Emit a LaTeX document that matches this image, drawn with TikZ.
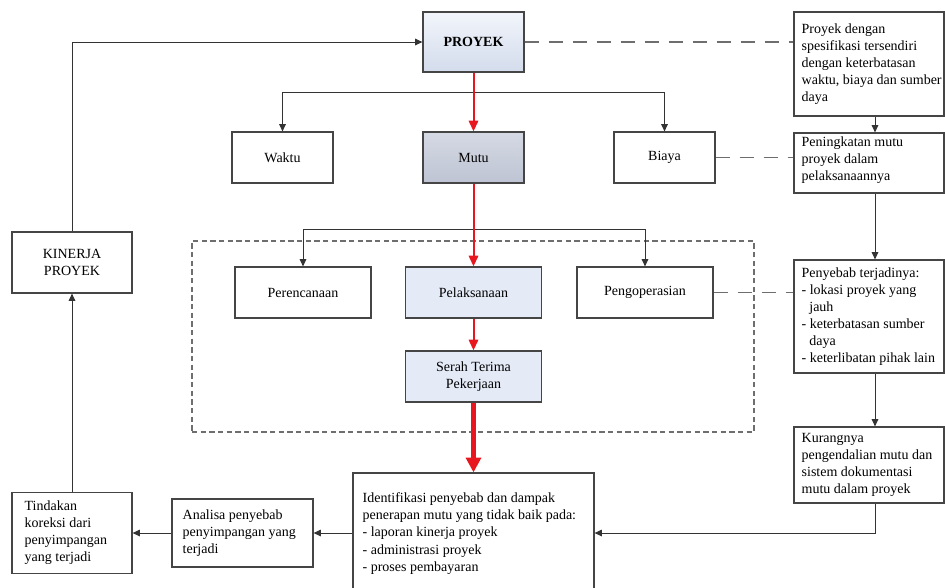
\documentclass[tikz,border=0pt]{standalone}
\usepackage{fontspec}
\setmainfont{Liberation Serif}
\usetikzlibrary{arrows.meta,calc}
\definecolor{lineC}{HTML}{333333}
\definecolor{boxC}{HTML}{454545}
\definecolor{dashC}{HTML}{6E6E6E}
\definecolor{redC}{HTML}{E8161F}
\definecolor{mutuTop}{HTML}{D5D9E4}
\definecolor{mutuBot}{HTML}{BEC4D3}
\definecolor{blueC}{HTML}{E4EAF6}
\definecolor{proyTop}{HTML}{F2F5FB}
\definecolor{proyBot}{HTML}{D3DCEC}
\tikzset{
  every node/.style={font=\fontsize{10.5}{12.8}\selectfont},
  box/.style={draw=boxC, line width=0.9pt, inner sep=0pt},
  sz/.style 2 args={minimum width=#1*0.75pt, minimum height=#2*0.75pt},
  txt/.style={align=left, inner sep=0pt, anchor=west},
  arr/.style={draw=lineC, line width=0.75pt, -{Triangle[length=5.5pt,width=5pt]}},
  redarr/.style={draw=redC, line width=1.5pt, -{Triangle[length=8pt,width=7pt]}},
  bigred/.style={draw=redC, line width=3.2pt, -{Triangle[length=11pt,width=11pt]}},
  dashlink/.style={draw=dashC, line width=0.9pt, dash pattern=on 11pt off 7pt},
  dashframe/.style={draw=dashC, line width=0.8pt, dash pattern=on 4pt off 2.5pt},
}
\begin{document}
\begin{tikzpicture}[x=0.75pt,y=-0.75pt]
\useasboundingbox (0,0) rectangle (945,587);
\clip (0,0) rectangle (945,587);

% main column
\node[box, top color=proyTop, bottom color=proyBot, sz={101}{60}] (proyek) at (473.5,42) {\textbf{PROYEK}};
\node[box, sz={101}{51}] (waktu) at (282.5,157.5) {Waktu};
\node[box, top color=mutuTop, bottom color=mutuBot, sz={101}{51}] (mutu) at (473.5,157.5) {Mutu};
\node[box, sz={101}{51}] (biaya) at (664.5,157.5) {Biaya};
\coordinate (b1) at (473.5,92);

\node[dashframe, sz={562}{191}, inner sep=0pt] (frame) at (473,336.5) {};
\node[box, sz={136}{51}] (peren) at (303,292.5) {Perencanaan};
\node[box, fill=blueC, sz={136}{51}] (pelak) at (473.5,292.5) {Pelaksanaan};
\node[box, sz={136}{51}] (pengop) at (645,292.5) {Pengoperasian};
\coordinate (b2) at (473.5,229);
\node[box, fill=blueC, sz={136}{51}, align=center] (serah) at (473.5,376.5) {Serah Terima\\Pekerjaan};

% left column
\node[box, sz={120}{61}, align=center] (kinerja) at (72,262.5) {KINERJA\\PROYEK};
\node[box, sz={120}{81}] (tindakan) at (72,533) {};
\node[txt] (tindakant) at ($(tindakan.west)+(13,0)$) {Tindakan\\koreksi dari\\penyimpangan\\yang terjadi};
\node[box, sz={141}{68}] (analisa) at (242.5,533) {};
\node[txt] (analisat) at ($(analisa.west)+(11,0)$) {Analisa penyebab\\penyimpangan yang\\terjadi};
\node[box, sz={241}{120}] (identif) at (473.5,533) {};
\node[txt] (identift) at ($(identif.west)+(10,0.5)$) {Identifikasi penyebab dan dampak\\penerapan mutu yang tidak baik pada:\\- laporan kinerja proyek\\- administrasi proyek\\- proses pembayaran};

% right column
\node[box, sz={150}{104}] (r1) at (869,64) {};
\node[txt] (r1t) at ($(r1.west)+(8,0)$) {Proyek dengan\\spesifikasi tersendiri\\dengan keterbatasan\\waktu, biaya dan sumber\\daya};
\node[box, sz={150}{60}] (r2) at (869,163) {};
\node[txt] (r2t) at ($(r2.west)+(8,-3)$) {Peningkatan mutu\\proyek dalam\\pelaksanaannya};
\node[box, sz={150}{113}] (r3) at (869,316.5) {};
\node[txt] (r3t) at ($(r3.west)+(8,0)$) {Penyebab terjadinya:\\- lokasi proyek yang\\\hspace*{0.55em}jauh\\- keterbatasan sumber\\\hspace*{0.55em}daya\\- keterlibatan pihak lain};
\node[box, sz={150}{76}] (r4) at (869,465) {};
\node[txt] (r4t) at ($(r4.west)+(8,0)$) {Kurangnya\\pengendalian mutu dan\\sistem dokumentasi\\mutu dalam proyek};
\coordinate (rx) at (875,0);

% connectors
\draw[arr] (kinerja.north) |- (proyek.west);
\draw[arr] (tindakan.north) -- (kinerja.south);
\draw[dashlink] (proyek.east) -- (proyek.east -| r1.west);
\draw[dashlink] (biaya.east) -- (biaya.east -| r2.west);
\draw[dashlink] (pengop.east) -- (pengop.east -| r3.west);
\draw[arr] (b1) -| (waktu.north);
\draw[arr] (b1) -| (biaya.north);
\draw[arr] (b2) -| (peren.north);
\draw[arr] (b2) -| (pengop.north);
\draw[redarr] (proyek.south) -- (mutu.north);
\draw[redarr] (mutu.south) -- (pelak.north);
\draw[redarr] (pelak.south) -- (serah.north);
\draw[bigred] (serah.south) -- (identif.north);
\draw[arr] (r1.south -| rx) -- (r2.north -| rx);
\draw[arr] (r2.south -| rx) -- (r3.north -| rx);
\draw[arr] (r3.south -| rx) -- (r4.north -| rx);
\draw[arr] (r4.south -| rx) |- (identif.east);
\draw[arr] (identif.west) -- (analisa.east);
\draw[arr] (analisa.west) -- (tindakan.east);
\end{tikzpicture}
\end{document}
